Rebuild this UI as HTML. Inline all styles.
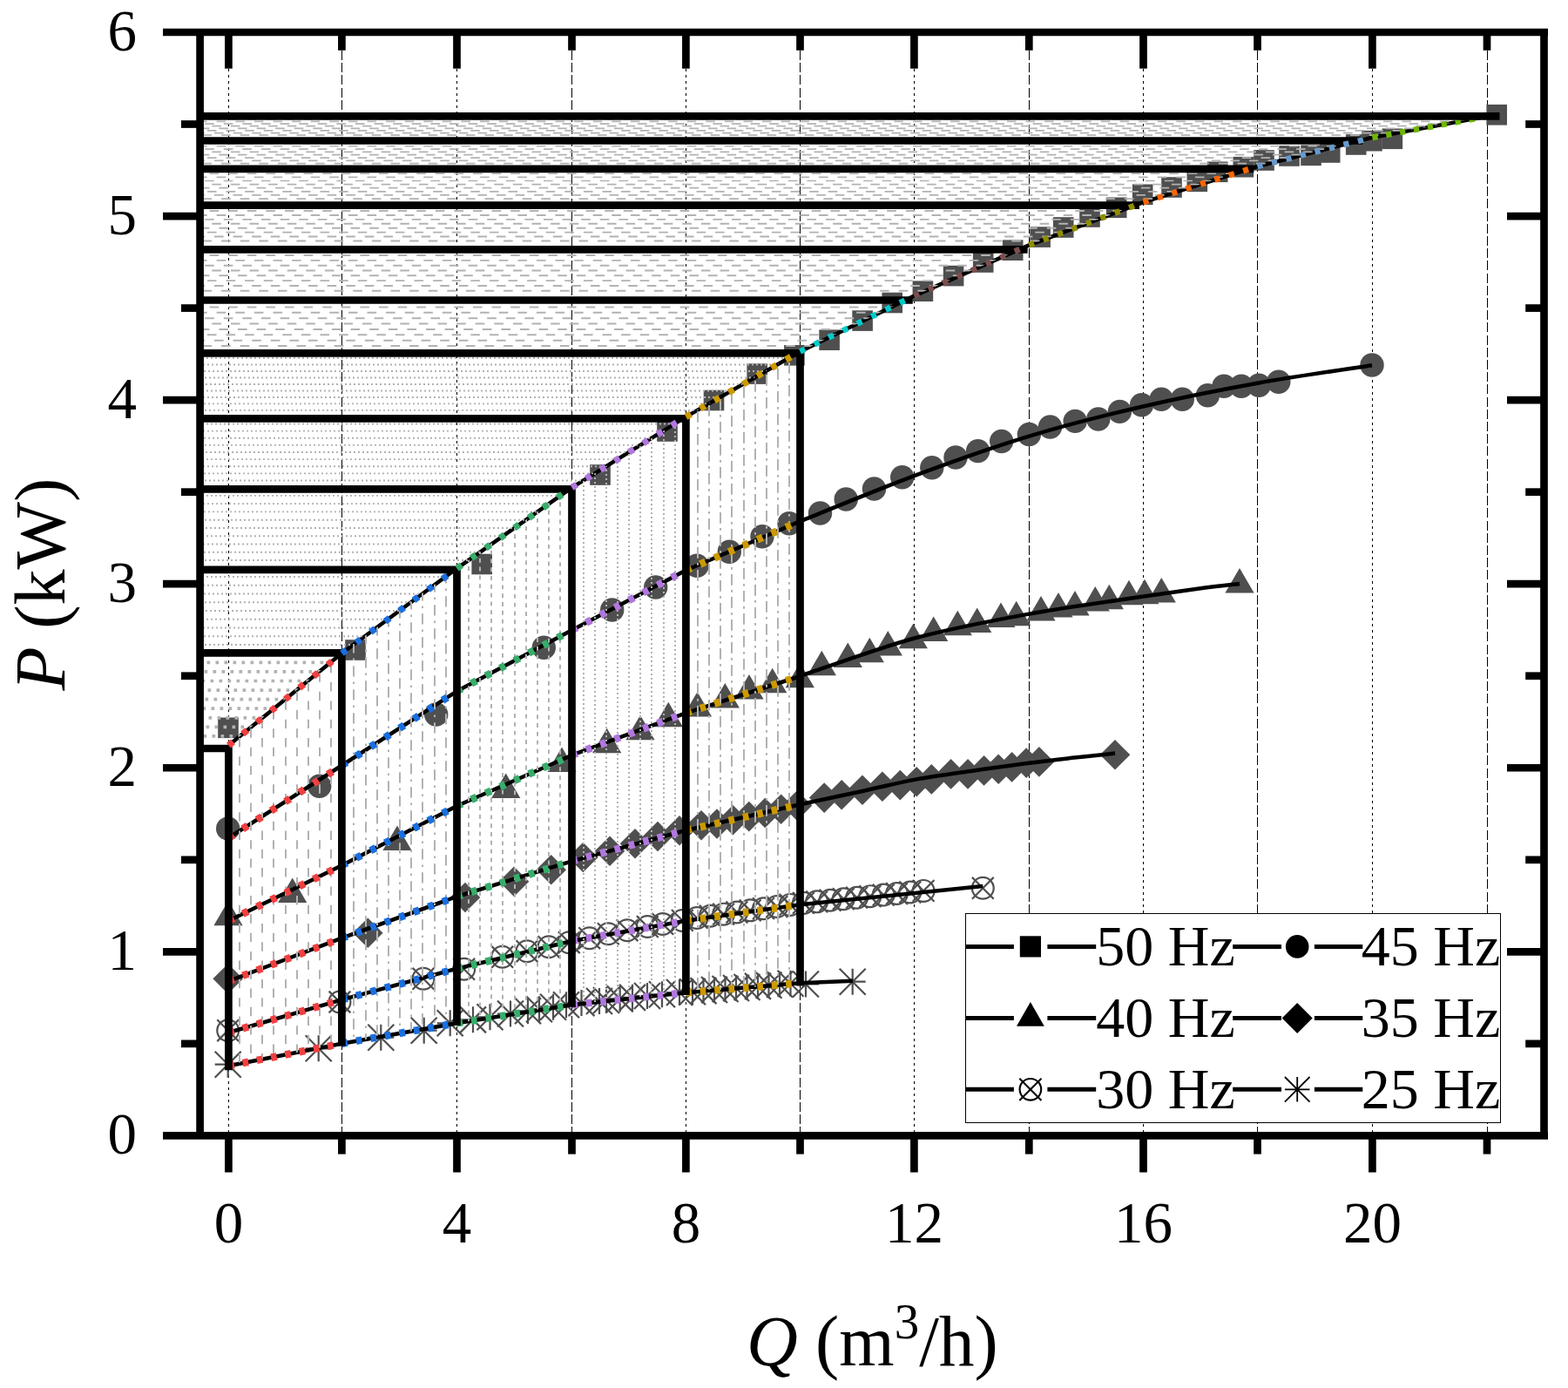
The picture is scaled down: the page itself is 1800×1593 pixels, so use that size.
<!DOCTYPE html>
<html lang="en"><head><meta charset="utf-8"><title>P-Q curves</title>
<style>html,body{margin:0;padding:0;background:#fff}svg{display:block}text{font-family:"Liberation Serif",serif;fill:#000}</style></head><body>
<svg width="1800" height="1593" viewBox="0 0 1800 1593">
<rect width="1800" height="1593" fill="#fff"/>
<g stroke="#000" stroke-width="1" fill="none" shape-rendering="crispEdges">
<line x1="262.5" y1="79" x2="262.5" y2="1303.4" stroke-dasharray="3 4"/>
<line x1="392.5" y1="58" x2="392.5" y2="1303.4" stroke-dasharray="11 3.2"/>
<line x1="524.5" y1="79" x2="524.5" y2="1303.4" stroke-dasharray="3 4"/>
<line x1="656.5" y1="58" x2="656.5" y2="1303.4" stroke-dasharray="11 3.2"/>
<line x1="787.5" y1="79" x2="787.5" y2="1303.4" stroke-dasharray="3 4"/>
<line x1="918.5" y1="58" x2="918.5" y2="1303.4" stroke-dasharray="11 3.2"/>
<line x1="1049.5" y1="79" x2="1049.5" y2="1303.4" stroke-dasharray="3 4"/>
<line x1="1181.5" y1="58" x2="1181.5" y2="1303.4" stroke-dasharray="11 3.2"/>
<line x1="1312.5" y1="79" x2="1312.5" y2="1303.4" stroke-dasharray="3 4"/>
<line x1="1443.5" y1="58" x2="1443.5" y2="1303.4" stroke-dasharray="11 3.2"/>
<line x1="1575.5" y1="79" x2="1575.5" y2="1303.4" stroke-dasharray="3 4"/>
<line x1="1707.5" y1="58" x2="1707.5" y2="1303.4" stroke-dasharray="11 3.2"/>
</g>
<g fill="#4f4f4f" stroke="none">
<rect x="250.2" y="823.5" width="23.6" height="23.6"/>
<rect x="396.2" y="734.2" width="23.6" height="23.6"/>
<rect x="541.4" y="635.7" width="23.6" height="23.6"/>
<rect x="677.2" y="533.2" width="23.6" height="23.6"/>
<rect x="754.2" y="483.2" width="23.6" height="23.6"/>
<rect x="807.7" y="447.7" width="23.6" height="23.6"/>
<rect x="857.4" y="417.3" width="23.6" height="23.6"/>
<rect x="900.1" y="396" width="23.6" height="23.6"/>
<rect x="940.3" y="378.4" width="23.6" height="23.6"/>
<rect x="978.3" y="356.3" width="23.6" height="23.6"/>
<rect x="1012.4" y="335.7" width="23.6" height="23.6"/>
<rect x="1047.6" y="322.4" width="23.6" height="23.6"/>
<rect x="1082.8" y="304.8" width="23.6" height="23.6"/>
<rect x="1116.9" y="289.2" width="23.6" height="23.6"/>
<rect x="1150.9" y="275.4" width="23.6" height="23.6"/>
<rect x="1182.3" y="260.3" width="23.6" height="23.6"/>
<rect x="1208.9" y="249.2" width="23.6" height="23.6"/>
<rect x="1239.2" y="237.2" width="23.6" height="23.6"/>
<rect x="1269.9" y="226.5" width="23.6" height="23.6"/>
<rect x="1299.9" y="211.5" width="23.6" height="23.6"/>
<rect x="1333.2" y="203.2" width="23.6" height="23.6"/>
<rect x="1362.5" y="196.5" width="23.6" height="23.6"/>
<rect x="1385.9" y="185.5" width="23.6" height="23.6"/>
<rect x="1415.5" y="179.9" width="23.6" height="23.6"/>
<rect x="1439.2" y="172.2" width="23.6" height="23.6"/>
<rect x="1468.2" y="167.2" width="23.6" height="23.6"/>
<rect x="1493.2" y="166.5" width="23.6" height="23.6"/>
<rect x="1514.9" y="163.2" width="23.6" height="23.6"/>
<rect x="1544.9" y="154.2" width="23.6" height="23.6"/>
<rect x="1563.2" y="149.9" width="23.6" height="23.6"/>
<rect x="1586.5" y="147.5" width="23.6" height="23.6"/>
<rect x="1706.4" y="120" width="23.6" height="23.6"/>
<circle cx="261.7" cy="951" r="13.7"/>
<circle cx="366.7" cy="902.3" r="13.7"/>
<circle cx="500.7" cy="820" r="13.7"/>
<circle cx="624.3" cy="743.3" r="13.7"/>
<circle cx="702.7" cy="700" r="13.7"/>
<circle cx="752.7" cy="674" r="13.7"/>
<circle cx="800" cy="649.3" r="13.7"/>
<circle cx="837.3" cy="633.3" r="13.7"/>
<circle cx="875" cy="615.7" r="13.7"/>
<circle cx="906" cy="600.7" r="13.7"/>
<circle cx="941.5" cy="589" r="13.7"/>
<circle cx="971.2" cy="573" r="13.7"/>
<circle cx="1003.5" cy="561" r="13.7"/>
<circle cx="1035.7" cy="547.7" r="13.7"/>
<circle cx="1069.8" cy="536.7" r="13.7"/>
<circle cx="1097" cy="525" r="13.7"/>
<circle cx="1122.6" cy="517.6" r="13.7"/>
<circle cx="1149.7" cy="506.5" r="13.7"/>
<circle cx="1181.4" cy="498.5" r="13.7"/>
<circle cx="1205.5" cy="490" r="13.7"/>
<circle cx="1234.2" cy="483.4" r="13.7"/>
<circle cx="1260.8" cy="481" r="13.7"/>
<circle cx="1285.4" cy="472.4" r="13.7"/>
<circle cx="1310.6" cy="464.8" r="13.7"/>
<circle cx="1333.2" cy="458.3" r="13.7"/>
<circle cx="1357.3" cy="458.3" r="13.7"/>
<circle cx="1386.4" cy="453.8" r="13.7"/>
<circle cx="1405" cy="443.2" r="13.7"/>
<circle cx="1425" cy="443.2" r="13.7"/>
<circle cx="1445.2" cy="442.2" r="13.7"/>
<circle cx="1467.8" cy="438.2" r="13.7"/>
<circle cx="1575" cy="419" r="13.7"/>
<path d="M262 1033.8L278.6 1062.2L245.4 1062.2Z"/>
<path d="M335.7 1007.5L352.3 1035.9L319.1 1035.9Z"/>
<path d="M456 947.5L472.6 975.9L439.4 975.9Z"/>
<path d="M580.7 887.5L597.3 915.9L564.1 915.9Z"/>
<path d="M645 857.5L661.6 885.9L628.4 885.9Z"/>
<path d="M696.7 835.8L713.3 864.2L680.1 864.2Z"/>
<path d="M735 820.8L751.6 849.2L718.4 849.2Z"/>
<path d="M767.3 805.8L783.9 834.2L750.7 834.2Z"/>
<path d="M800.5 794.1L817.1 822.5L783.9 822.5Z"/>
<path d="M832.3 784.1L848.9 812.5L815.7 812.5Z"/>
<path d="M860 774.1L876.6 802.5L843.4 802.5Z"/>
<path d="M886.7 766.8L903.3 795.2L870.1 795.2Z"/>
<path d="M918.3 760.8L934.9 789.2L901.7 789.2Z"/>
<path d="M943.3 746.8L959.9 775.2L926.7 775.2Z"/>
<path d="M973.3 737.5L989.9 765.9L956.7 765.9Z"/>
<path d="M998.3 731.8L1014.9 760.2L981.7 760.2Z"/>
<path d="M1019.3 724.1L1035.9 752.5L1002.7 752.5Z"/>
<path d="M1048.3 715.8L1064.9 744.2L1031.7 744.2Z"/>
<path d="M1071.7 707.5L1088.3 735.9L1055.1 735.9Z"/>
<path d="M1099.3 700.8L1115.9 729.2L1082.7 729.2Z"/>
<path d="M1121.7 697.5L1138.3 725.9L1105.1 725.9Z"/>
<path d="M1149 691.5L1165.6 719.9L1132.4 719.9Z"/>
<path d="M1166.7 689.8L1183.3 718.2L1150.1 718.2Z"/>
<path d="M1195 684.1L1211.6 712.5L1178.4 712.5Z"/>
<path d="M1215 680.1L1231.6 708.5L1198.4 708.5Z"/>
<path d="M1234 678.1L1250.6 706.5L1217.4 706.5Z"/>
<path d="M1257.3 673.1L1273.9 701.5L1240.7 701.5Z"/>
<path d="M1273.3 670.8L1289.9 699.2L1256.7 699.2Z"/>
<path d="M1296 665.8L1312.6 694.2L1279.4 694.2Z"/>
<path d="M1314 664.8L1330.6 693.2L1297.4 693.2Z"/>
<path d="M1333.3 663.1L1349.9 691.5L1316.7 691.5Z"/>
<path d="M1423 652.1L1439.6 680.5L1406.4 680.5Z"/>
<path d="M261.7 1106L279 1123.3L261.7 1140.6L244.4 1123.3Z"/>
<path d="M422.3 1053.4L439.6 1070.7L422.3 1088L405 1070.7Z"/>
<path d="M534 1012.7L551.3 1030L534 1047.3L516.7 1030Z"/>
<path d="M590 994.4L607.3 1011.7L590 1029L572.7 1011.7Z"/>
<path d="M632.7 981L650 998.3L632.7 1015.6L615.4 998.3Z"/>
<path d="M669.3 966.7L686.6 984L669.3 1001.3L652 984Z"/>
<path d="M700 959.4L717.3 976.7L700 994L682.7 976.7Z"/>
<path d="M729 951L746.3 968.3L729 985.6L711.7 968.3Z"/>
<path d="M755 942.7L772.3 960L755 977.3L737.7 960Z"/>
<path d="M780 936L797.3 953.3L780 970.6L762.7 953.3Z"/>
<path d="M805 930L822.3 947.3L805 964.6L787.7 947.3Z"/>
<path d="M823 928.14L840.3 945.44L823 962.74L805.7 945.44Z"/>
<path d="M841.4 923.97L858.7 941.27L841.4 958.57L824.1 941.27Z"/>
<path d="M859.8 919.8L877.1 937.1L859.8 954.4L842.5 937.1Z"/>
<path d="M878.2 915.63L895.5 932.93L878.2 950.23L860.9 932.93Z"/>
<path d="M896.6 911.46L913.9 928.76L896.6 946.06L879.3 928.76Z"/>
<path d="M915 907.29L932.3 924.59L915 941.89L897.7 924.59Z"/>
<path d="M946.2 898.3L963.5 915.6L946.2 932.9L928.9 915.6Z"/>
<path d="M966.2 894.9L983.5 912.2L966.2 929.5L948.9 912.2Z"/>
<path d="M990 889.4L1007.3 906.7L990 924L972.7 906.7Z"/>
<path d="M1012.9 885.4L1030.2 902.7L1012.9 920L995.6 902.7Z"/>
<path d="M1033.3 883.8L1050.6 901.1L1033.3 918.4L1016 901.1Z"/>
<path d="M1052.2 880L1069.5 897.3L1052.2 914.6L1034.9 897.3Z"/>
<path d="M1069.3 877.1L1086.6 894.4L1069.3 911.7L1052 894.4Z"/>
<path d="M1091.6 871.1L1108.9 888.4L1091.6 905.7L1074.3 888.4Z"/>
<path d="M1111.1 871.1L1128.4 888.4L1111.1 905.7L1093.8 888.4Z"/>
<path d="M1129.6 867.1L1146.9 884.4L1129.6 901.7L1112.3 884.4Z"/>
<path d="M1146.2 865.4L1163.5 882.7L1146.2 900L1128.9 882.7Z"/>
<path d="M1161.6 863.1L1178.9 880.4L1161.6 897.7L1144.3 880.4Z"/>
<path d="M1178.2 858.3L1195.5 875.6L1178.2 892.9L1160.9 875.6Z"/>
<path d="M1192.9 857.1L1210.2 874.4L1192.9 891.7L1175.6 874.4Z"/>
<path d="M1280 848.9L1297.3 866.2L1280 883.5L1262.7 866.2Z"/>
</g>
<g fill="none" stroke="#4f4f4f" stroke-width="2.2">
<circle cx="261.7" cy="1182.7" r="12.4"/><path d="M249.3 1170.3L274.1 1195.1M249.3 1195.1L274.1 1170.3"/>
<circle cx="390" cy="1150" r="12.4"/><path d="M377.6 1137.6L402.4 1162.4M377.6 1162.4L402.4 1137.6"/>
<circle cx="486" cy="1123.3" r="12.4"/><path d="M473.6 1110.9L498.4 1135.7M473.6 1135.7L498.4 1110.9"/>
<circle cx="532.7" cy="1112.3" r="12.4"/><path d="M520.3 1099.9L545.1 1124.7M520.3 1124.7L545.1 1099.9"/>
<circle cx="576.7" cy="1098.3" r="12.4"/><path d="M564.3 1085.9L589.1 1110.7M564.3 1110.7L589.1 1085.9"/>
<circle cx="605" cy="1091.7" r="12.4"/><path d="M592.6 1079.3L617.4 1104.1M592.6 1104.1L617.4 1079.3"/>
<circle cx="630" cy="1086.7" r="12.4"/><path d="M617.6 1074.3L642.4 1099.1M617.6 1099.1L642.4 1074.3"/>
<circle cx="653.3" cy="1081.7" r="12.4"/><path d="M640.9 1069.3L665.7 1094.1M640.9 1094.1L665.7 1069.3"/>
<circle cx="676.7" cy="1076.7" r="12.4"/><path d="M664.3 1064.3L689.1 1089.1M664.3 1089.1L689.1 1064.3"/>
<circle cx="698.3" cy="1071.7" r="12.4"/><path d="M685.9 1059.3L710.7 1084.1M685.9 1084.1L710.7 1059.3"/>
<circle cx="720" cy="1067.7" r="12.4"/><path d="M707.6 1055.3L732.4 1080.1M707.6 1080.1L732.4 1055.3"/>
<circle cx="743.3" cy="1063.55" r="12.4"/><path d="M730.9 1051.15L755.7 1075.95M730.9 1075.95L755.7 1051.15"/>
<circle cx="760.8" cy="1060.43" r="12.4"/><path d="M748.4 1048.03L773.2 1072.83M748.4 1072.83L773.2 1048.03"/>
<circle cx="783.3" cy="1056.43" r="12.4"/><path d="M770.9 1044.03L795.7 1068.83M770.9 1068.83L795.7 1044.03"/>
<circle cx="800" cy="1053.43" r="12.4"/><path d="M787.6 1041.03L812.4 1065.83M787.6 1065.83L812.4 1041.03"/>
<circle cx="815.3" cy="1051.28" r="12.4"/><path d="M802.9 1038.88L827.7 1063.68M802.9 1063.68L827.7 1038.88"/>
<circle cx="830.6" cy="1049.14" r="12.4"/><path d="M818.2 1036.74L843 1061.54M818.2 1061.54L843 1036.74"/>
<circle cx="845.9" cy="1046.99" r="12.4"/><path d="M833.5 1034.59L858.3 1059.39M833.5 1059.39L858.3 1034.59"/>
<circle cx="861.2" cy="1044.84" r="12.4"/><path d="M848.8 1032.44L873.6 1057.24M848.8 1057.24L873.6 1032.44"/>
<circle cx="876.5" cy="1042.69" r="12.4"/><path d="M864.1 1030.29L888.9 1055.09M864.1 1055.09L888.9 1030.29"/>
<circle cx="891.8" cy="1040.55" r="12.4"/><path d="M879.4 1028.15L904.2 1052.95M879.4 1052.95L904.2 1028.15"/>
<circle cx="907.1" cy="1038.4" r="12.4"/><path d="M894.7 1026L919.5 1050.8M894.7 1050.8L919.5 1026"/>
<circle cx="922.4" cy="1036.4" r="12.4"/><path d="M910 1024L934.8 1048.8M910 1048.8L934.8 1024"/>
<circle cx="937.7" cy="1034.85" r="12.4"/><path d="M925.3 1022.45L950.1 1047.25M925.3 1047.25L950.1 1022.45"/>
<circle cx="953" cy="1033.3" r="12.4"/><path d="M940.6 1020.9L965.4 1045.7M940.6 1045.7L965.4 1020.9"/>
<circle cx="968.3" cy="1031.74" r="12.4"/><path d="M955.9 1019.34L980.7 1044.14M955.9 1044.14L980.7 1019.34"/>
<circle cx="983.6" cy="1030.19" r="12.4"/><path d="M971.2 1017.79L996 1042.59M971.2 1042.59L996 1017.79"/>
<circle cx="998.9" cy="1028.64" r="12.4"/><path d="M986.5 1016.24L1011.3 1041.04M986.5 1041.04L1011.3 1016.24"/>
<circle cx="1014.2" cy="1027.08" r="12.4"/><path d="M1001.8 1014.68L1026.6 1039.48M1001.8 1039.48L1026.6 1014.68"/>
<circle cx="1029.5" cy="1025.53" r="12.4"/><path d="M1017.1 1013.13L1041.9 1037.93M1017.1 1037.93L1041.9 1013.13"/>
<circle cx="1044.8" cy="1023.98" r="12.4"/><path d="M1032.4 1011.58L1057.2 1036.38M1032.4 1036.38L1057.2 1011.58"/>
<circle cx="1060.1" cy="1022.42" r="12.4"/><path d="M1047.7 1010.02L1072.5 1034.82M1047.7 1034.82L1072.5 1010.02"/>
<circle cx="1128.3" cy="1019.3" r="12.4"/><path d="M1115.9 1006.9L1140.7 1031.7M1115.9 1031.7L1140.7 1006.9"/>
<path d="M246.7 1206.7L276.7 1236.7M246.7 1236.7L276.7 1206.7M261.7 1206.7L261.7 1236.7M246.7 1221.7L276.7 1221.7"/>
<path d="M350.7 1188.3L380.7 1218.3M350.7 1218.3L380.7 1188.3M365.7 1188.3L365.7 1218.3M350.7 1203.3L380.7 1203.3"/>
<path d="M422.3 1175.7L452.3 1205.7M422.3 1205.7L452.3 1175.7M437.3 1175.7L437.3 1205.7M422.3 1190.7L452.3 1190.7"/>
<path d="M471.7 1167.7L501.7 1197.7M471.7 1197.7L501.7 1167.7M486.7 1167.7L486.7 1197.7M471.7 1182.7L501.7 1182.7"/>
<path d="M501.7 1159.3L531.7 1189.3M501.7 1189.3L531.7 1159.3M516.7 1159.3L516.7 1189.3M501.7 1174.3L531.7 1174.3"/>
<path d="M528 1155.36L558 1185.36M528 1185.36L558 1155.36M543 1155.36L543 1185.36M528 1170.36L558 1170.36"/>
<path d="M547.5 1152.25L577.5 1182.25M547.5 1182.25L577.5 1152.25M562.5 1152.25L562.5 1182.25M547.5 1167.25L577.5 1167.25"/>
<path d="M571 1148.52L601 1178.52M571 1178.52L601 1148.52M586 1148.52L586 1178.52M571 1163.52L601 1163.52"/>
<path d="M591 1145.33L621 1175.33M591 1175.33L621 1145.33M606 1145.33L606 1175.33M591 1160.33L621 1160.33"/>
<path d="M604 1143.27L634 1173.27M604 1173.27L634 1143.27M619 1143.27L619 1173.27M604 1158.27L634 1158.27"/>
<path d="M620 1140.72L650 1170.72M620 1170.72L650 1140.72M635 1140.72L635 1170.72M620 1155.72L650 1155.72"/>
<path d="M635 1138.33L665 1168.33M635 1168.33L665 1138.33M650 1138.33L650 1168.33M635 1153.33L665 1153.33"/>
<path d="M652.5 1136.12L682.5 1166.12M652.5 1166.12L682.5 1136.12M667.5 1136.12L667.5 1166.12M652.5 1151.12L682.5 1151.12"/>
<path d="M673 1133.93L703 1163.93M673 1163.93L703 1133.93M688 1133.93L688 1163.93M673 1148.93L703 1148.93"/>
<path d="M681 1133.08L711 1163.08M681 1163.08L711 1133.08M696 1133.08L696 1163.08M681 1148.08L711 1148.08"/>
<path d="M696.7 1131.4L726.7 1161.4M696.7 1161.4L726.7 1131.4M711.7 1131.4L711.7 1161.4M696.7 1146.4L726.7 1146.4"/>
<path d="M711 1129.87L741 1159.87M711 1159.87L741 1129.87M726 1129.87L726 1159.87M711 1144.87L741 1144.87"/>
<path d="M728 1128.05L758 1158.05M728 1158.05L758 1128.05M743 1128.05L743 1158.05M728 1143.05L758 1143.05"/>
<path d="M745 1126.23L775 1156.23M745 1156.23L775 1126.23M760 1126.23L760 1156.23M745 1141.23L775 1141.23"/>
<path d="M765 1124.09L795 1154.09M765 1154.09L795 1124.09M780 1124.09L780 1154.09M765 1139.09L795 1139.09"/>
<path d="M780 1123.16L810 1153.16M780 1153.16L810 1123.16M795 1123.16L795 1153.16M780 1138.16L810 1138.16"/>
<path d="M792.5 1122.11L822.5 1152.11M792.5 1152.11L822.5 1122.11M807.5 1122.11L807.5 1152.11M792.5 1137.11L822.5 1137.11"/>
<path d="M805 1121.06L835 1151.06M805 1151.06L835 1121.06M820 1121.06L820 1151.06M805 1136.06L835 1136.06"/>
<path d="M817.5 1120.02L847.5 1150.02M817.5 1150.02L847.5 1120.02M832.5 1120.02L832.5 1150.02M817.5 1135.02L847.5 1135.02"/>
<path d="M830 1118.97L860 1148.97M830 1148.97L860 1118.97M845 1118.97L845 1148.97M830 1133.97L860 1133.97"/>
<path d="M842.5 1117.92L872.5 1147.92M842.5 1147.92L872.5 1117.92M857.5 1117.92L857.5 1147.92M842.5 1132.92L872.5 1132.92"/>
<path d="M855 1116.87L885 1146.87M855 1146.87L885 1116.87M870 1116.87L870 1146.87M855 1131.87L885 1131.87"/>
<path d="M867.5 1115.82L897.5 1145.82M867.5 1145.82L897.5 1115.82M882.5 1115.82L882.5 1145.82M867.5 1130.82L897.5 1130.82"/>
<path d="M880 1114.77L910 1144.77M880 1144.77L910 1114.77M895 1114.77L895 1144.77M880 1129.77L910 1129.77"/>
<path d="M892.5 1113.72L922.5 1143.72M892.5 1143.72L922.5 1113.72M907.5 1113.72L907.5 1143.72M892.5 1128.72L922.5 1128.72"/>
<path d="M910 1114.5L940 1144.5M910 1144.5L940 1114.5M925 1114.5L925 1144.5M910 1129.5L940 1129.5"/>
<path d="M963.7 1111.7L993.7 1141.7M963.7 1141.7L993.7 1111.7M978.7 1111.7L978.7 1141.7M963.7 1126.7L993.7 1126.7"/>
</g>
<g fill="none" stroke="#000" stroke-width="4.5" stroke-linejoin="round">
<path d="M262.4 855.5L392.4 749.8L524.5 652.3L656.5 559.6L787.4 478.4L918.5 403.5L1049.4 339.6L1181.3 281.4L1312.5 232.2L1443.5 191L1575.4 157.8L1718.2 131.6"/>
<path d="M262.4 961.7L392.4 878.5L524.5 793.3L656.5 723.3L787.4 654.5L918.5 598.3C940.55 589.52 1006.98 561.88 1050.8 545.6C1094.62 529.32 1137.87 513.78 1181.4 500.6C1224.93 487.42 1268.07 476.68 1312 466.5C1355.93 456.32 1401.17 447.37 1445 439.5C1488.83 431.63 1553.33 422.67 1575 419.3"/>
<path d="M262.4 1056.7L392.4 993.3L524.5 925L656.5 866.7L787.4 818.3L918.5 776C940.38 768.75 1006 744.4 1049.8 732.5C1093.6 720.6 1137.47 712.58 1181.3 704.6C1225.13 696.62 1279.68 689.53 1312.8 684.6C1345.92 679.67 1361.63 677.43 1380 675C1398.37 672.57 1415.83 670.83 1423 670"/>
<path d="M262.4 1126L392.4 1076.7L524.5 1029L656.5 988.3L787.4 953L918.5 923.3C930.23 920.78 966.8 912.98 988.9 908.2C1011 903.42 1029.62 898.57 1051.1 894.6C1072.58 890.63 1096.13 887.55 1117.8 884.4C1139.47 881.25 1161.85 878.17 1181.1 875.7C1200.35 873.23 1216.82 871.45 1233.3 869.6C1249.78 867.75 1272.22 865.43 1280 864.6"/>
<path d="M262.4 1185L392.4 1147.3L524.5 1111.7L656.5 1080L787.4 1056.7L918.5 1038.3L1128.3 1017"/>
<path d="M262.4 1223.3L392.4 1197.7L524.5 1174.3L656.5 1153.3L787.4 1139.3L918.5 1128.3L979 1125.7"/>
</g>
<defs>
<clipPath id="cv0"><path d="M262.4 855.5L392.4 749.8L392.4 1197.7L262.4 1223.3Z"/></clipPath>
<clipPath id="cv1"><path d="M392.4 749.8L524.5 652.3L524.5 1174.3L392.4 1197.7Z"/></clipPath>
<clipPath id="cv2"><path d="M524.5 652.3L656.5 559.6L656.5 1153.3L524.5 1174.3Z"/></clipPath>
<clipPath id="cv3"><path d="M656.5 559.6L787.4 478.4L787.4 1139.3L656.5 1153.3Z"/></clipPath>
<clipPath id="cv4"><path d="M787.4 478.4L918.5 403.5L918.5 1128.3L787.4 1139.3Z"/></clipPath>
<clipPath id="ch0"><path d="M229.6 855.5L262.4 855.5L392.4 749.8L229.6 749.8Z"/></clipPath>
<clipPath id="ch1"><path d="M229.6 749.8L392.4 749.8L524.5 652.3L229.6 652.3Z"/></clipPath>
<clipPath id="ch2"><path d="M229.6 652.3L524.5 652.3L656.5 559.6L229.6 559.6Z"/></clipPath>
<clipPath id="ch3"><path d="M229.6 559.6L656.5 559.6L787.4 478.4L229.6 478.4Z"/></clipPath>
<clipPath id="ch4"><path d="M229.6 478.4L787.4 478.4L918.5 403.5L229.6 403.5Z"/></clipPath>
<clipPath id="ch5"><path d="M229.6 403.5L918.5 403.5L1049.4 339.6L229.6 339.6Z"/></clipPath>
<clipPath id="ch6"><path d="M229.6 339.6L1049.4 339.6L1181.3 281.4L229.6 281.4Z"/></clipPath>
<clipPath id="ch7"><path d="M229.6 281.4L1181.3 281.4L1312.5 232.2L229.6 232.2Z"/></clipPath>
<clipPath id="ch8"><path d="M229.6 232.2L1312.5 232.2L1443.5 191L229.6 191Z"/></clipPath>
<clipPath id="ch9"><path d="M229.6 191L1443.5 191L1575.4 157.8L229.6 157.8Z"/></clipPath>
<clipPath id="ch10"><path d="M229.6 157.8L1575.4 157.8L1718.2 131.6L229.6 131.6Z"/></clipPath>
</defs>
<g fill="none" stroke="#b2b2b2" stroke-width="2">
<g clip-path="url(#cv0)">
<path d="M275 740.5V1228.3" stroke-dasharray="10.4 10.9"/>
<path d="M288 729.85V1228.3" stroke-dasharray="10.4 10.9"/>
<path d="M301 740.5V1228.3" stroke-dasharray="10.4 10.9"/>
<path d="M314 729.85V1228.3" stroke-dasharray="10.4 10.9"/>
<path d="M328 740.5V1228.3" stroke-dasharray="10.4 10.9"/>
<path d="M341 729.85V1228.3" stroke-dasharray="10.4 10.9"/>
<path d="M354 740.5V1228.3" stroke-dasharray="10.4 10.9"/>
<path d="M367 729.85V1228.3" stroke-dasharray="10.4 10.9"/>
<path d="M380 740.5V1228.3" stroke-dasharray="10.4 10.9"/>
</g>
<g clip-path="url(#cv1)">
<path d="M393 639.3V1202.7" stroke-dasharray="12.2 5.9 2.5 6.4"/>
<path d="M406 629.3V1202.7" stroke-dasharray="12.2 5.9 2.5 6.4"/>
<path d="M420 646.3V1202.7" stroke-dasharray="12.2 5.9 2.5 6.4"/>
<path d="M433 636.3V1202.7" stroke-dasharray="12.2 5.9 2.5 6.4"/>
<path d="M446 626.3V1202.7" stroke-dasharray="12.2 5.9 2.5 6.4"/>
<path d="M459 643.3V1202.7" stroke-dasharray="12.2 5.9 2.5 6.4"/>
<path d="M472 633.3V1202.7" stroke-dasharray="12.2 5.9 2.5 6.4"/>
<path d="M485 623.3V1202.7" stroke-dasharray="12.2 5.9 2.5 6.4"/>
<path d="M499 640.3V1202.7" stroke-dasharray="12.2 5.9 2.5 6.4"/>
<path d="M512 630.3V1202.7" stroke-dasharray="12.2 5.9 2.5 6.4"/>
</g>
<g clip-path="url(#cv2)">
<path d="M525 551.38V1179.3" stroke-dasharray="4.9 4.9"/>
<path d="M538 552V1179.3" stroke-dasharray="4.9 4.9"/>
<path d="M551 552.62V1179.3" stroke-dasharray="4.9 4.9"/>
<path d="M564 553.24V1179.3" stroke-dasharray="4.9 4.9"/>
<path d="M577 553.86V1179.3" stroke-dasharray="4.9 4.9"/>
<path d="M591 554.48V1179.3" stroke-dasharray="4.9 4.9"/>
<path d="M604 545.3V1179.3" stroke-dasharray="4.9 4.9"/>
<path d="M617 545.92V1179.3" stroke-dasharray="4.9 4.9"/>
<path d="M630 546.54V1179.3" stroke-dasharray="4.9 4.9"/>
<path d="M643 547.16V1179.3" stroke-dasharray="4.9 4.9"/>
<path d="M656 547.78V1179.3" stroke-dasharray="4.9 4.9"/>
</g>
<g clip-path="url(#cv3)">
<path d="M670 472V1158.3" stroke-dasharray="1.9 3.1"/>
<path d="M683 473V1158.3" stroke-dasharray="1.9 3.1"/>
<path d="M696 469V1158.3" stroke-dasharray="1.9 3.1"/>
<path d="M709 470V1158.3" stroke-dasharray="1.9 3.1"/>
<path d="M722 471V1158.3" stroke-dasharray="1.9 3.1"/>
<path d="M735 472V1158.3" stroke-dasharray="1.9 3.1"/>
<path d="M748 473V1158.3" stroke-dasharray="1.9 3.1"/>
<path d="M762 469V1158.3" stroke-dasharray="1.9 3.1"/>
<path d="M775 470V1158.3" stroke-dasharray="1.9 3.1"/>
</g>
<g clip-path="url(#cv4)">
<path d="M788 375V1144.3" stroke-dasharray="12.8 5.2 2.8 5.2"/>
<path d="M801 394V1144.3" stroke-dasharray="12.8 5.2 2.8 5.2"/>
<path d="M814 387V1144.3" stroke-dasharray="12.8 5.2 2.8 5.2"/>
<path d="M827 380V1144.3" stroke-dasharray="12.8 5.2 2.8 5.2"/>
<path d="M840 373V1144.3" stroke-dasharray="12.8 5.2 2.8 5.2"/>
<path d="M854 392V1144.3" stroke-dasharray="12.8 5.2 2.8 5.2"/>
<path d="M867 385V1144.3" stroke-dasharray="12.8 5.2 2.8 5.2"/>
<path d="M880 378V1144.3" stroke-dasharray="12.8 5.2 2.8 5.2"/>
<path d="M893 397V1144.3" stroke-dasharray="12.8 5.2 2.8 5.2"/>
<path d="M906 390V1144.3" stroke-dasharray="12.8 5.2 2.8 5.2"/>
</g>
</g>
<g fill="none" stroke="#b2b2b2">
<g clip-path="url(#ch0)" stroke-width="3.7" stroke-dasharray="3.7 6.3">
<path d="M217.5 760.37H397.4"/>
<path d="M224.5 770.94H397.4"/>
<path d="M221.5 781.51H397.4"/>
<path d="M218.5 792.08H397.4"/>
<path d="M215.5 802.65H397.4"/>
<path d="M222.5 813.22H397.4"/>
<path d="M219.5 823.79H397.4"/>
<path d="M216.5 834.36H397.4"/>
<path d="M223.5 844.93H397.4"/>
</g>
<g clip-path="url(#ch1)" stroke-width="1.9" stroke-dasharray="2 3">
<path d="M222 662.05H529.5"/>
<path d="M223 671.8H529.5"/>
<path d="M224 681.55H529.5"/>
<path d="M220 691.3H529.5"/>
<path d="M221 701.05H529.5"/>
<path d="M222 710.8H529.5"/>
<path d="M223 720.55H529.5"/>
<path d="M224 730.3H529.5"/>
<path d="M220 740.05H529.5"/>
</g>
<g clip-path="url(#ch2)" stroke-width="1.9" stroke-dasharray="2 3">
<path d="M222 568.87H661.5"/>
<path d="M223 578.14H661.5"/>
<path d="M224 587.41H661.5"/>
<path d="M220 596.68H661.5"/>
<path d="M221 605.95H661.5"/>
<path d="M222 615.22H661.5"/>
<path d="M223 624.49H661.5"/>
<path d="M224 633.76H661.5"/>
<path d="M220 643.03H661.5"/>
</g>
<g clip-path="url(#ch3)" stroke-width="1.9" stroke-dasharray="2 3">
<path d="M222 486.52H792.4"/>
<path d="M223 494.64H792.4"/>
<path d="M224 502.76H792.4"/>
<path d="M220 510.88H792.4"/>
<path d="M221 519H792.4"/>
<path d="M222 527.12H792.4"/>
<path d="M223 535.24H792.4"/>
<path d="M224 543.36H792.4"/>
<path d="M220 551.48H792.4"/>
</g>
<g clip-path="url(#ch4)" stroke-width="1.9" stroke-dasharray="2 3">
<path d="M222 410.99H923.5"/>
<path d="M223 418.48H923.5"/>
<path d="M224 425.97H923.5"/>
<path d="M220 433.46H923.5"/>
<path d="M221 440.95H923.5"/>
<path d="M222 448.44H923.5"/>
<path d="M223 455.93H923.5"/>
<path d="M224 463.42H923.5"/>
<path d="M220 470.91H923.5"/>
</g>
<g clip-path="url(#ch5)" stroke-width="2.0" stroke-dasharray="10.6 11">
<path d="M210.9 345.99H1054.4"/>
<path d="M219 352.38H1054.4"/>
<path d="M205.5 358.77H1054.4"/>
<path d="M213.6 365.16H1054.4"/>
<path d="M221.7 371.55H1054.4"/>
<path d="M208.2 377.94H1054.4"/>
<path d="M216.3 384.33H1054.4"/>
<path d="M224.4 390.72H1054.4"/>
<path d="M210.9 397.11H1054.4"/>
</g>
<g clip-path="url(#ch6)" stroke-width="1.9" stroke-dasharray="10.6 11">
<path d="M210.9 287.22H1186.3"/>
<path d="M219 293.04H1186.3"/>
<path d="M205.5 298.86H1186.3"/>
<path d="M213.6 304.68H1186.3"/>
<path d="M221.7 310.5H1186.3"/>
<path d="M208.2 316.32H1186.3"/>
<path d="M216.3 322.14H1186.3"/>
<path d="M224.4 327.96H1186.3"/>
<path d="M210.9 333.78H1186.3"/>
</g>
<g clip-path="url(#ch7)" stroke-width="1.9" stroke-dasharray="10.6 11">
<path d="M210.9 237.12H1317.5"/>
<path d="M219 242.04H1317.5"/>
<path d="M205.5 246.96H1317.5"/>
<path d="M213.6 251.88H1317.5"/>
<path d="M221.7 256.8H1317.5"/>
<path d="M208.2 261.72H1317.5"/>
<path d="M216.3 266.64H1317.5"/>
<path d="M224.4 271.56H1317.5"/>
<path d="M210.9 276.48H1317.5"/>
</g>
<g clip-path="url(#ch8)" stroke-width="1.7" stroke-dasharray="10.6 11">
<path d="M210.9 195.12H1448.5"/>
<path d="M219 199.24H1448.5"/>
<path d="M205.5 203.36H1448.5"/>
<path d="M213.6 207.48H1448.5"/>
<path d="M221.7 211.6H1448.5"/>
<path d="M208.2 215.72H1448.5"/>
<path d="M216.3 219.84H1448.5"/>
<path d="M224.4 223.96H1448.5"/>
<path d="M210.9 228.08H1448.5"/>
</g>
<g clip-path="url(#ch9)" stroke-width="1.7" stroke-dasharray="10.6 11">
<path d="M210.9 161.12H1580.4"/>
<path d="M219 164.44H1580.4"/>
<path d="M205.5 167.76H1580.4"/>
<path d="M213.6 171.08H1580.4"/>
<path d="M221.7 174.4H1580.4"/>
<path d="M208.2 177.72H1580.4"/>
<path d="M216.3 181.04H1580.4"/>
<path d="M224.4 184.36H1580.4"/>
<path d="M210.9 187.68H1580.4"/>
</g>
<g clip-path="url(#ch10)" stroke-width="1.7" stroke-dasharray="10.6 11">
<path d="M210.9 134.22H1723.2"/>
<path d="M219 136.84H1723.2"/>
<path d="M205.5 139.46H1723.2"/>
<path d="M213.6 142.08H1723.2"/>
<path d="M221.7 144.7H1723.2"/>
<path d="M208.2 147.32H1723.2"/>
<path d="M216.3 149.94H1723.2"/>
<path d="M224.4 152.56H1723.2"/>
<path d="M210.9 155.18H1723.2"/>
</g>
</g>
<g fill="none" stroke-width="8.6">
<path d="M262.4 961.7L392.4 878.5" stroke="#F14040" stroke-dasharray="6.6 12.69"/>
<path d="M392.4 878.5L524.5 793.3" stroke="#1A6FDF" stroke-dasharray="6.6 13.05"/>
<path d="M524.5 793.3L656.5 723.3" stroke="#37AD6B" stroke-dasharray="6.6 12.08"/>
<path d="M656.5 723.3L787.4 654.5" stroke="#B177DE" stroke-dasharray="6.6 11.88"/>
<path d="M787.4 654.5L918.5 598.3" stroke="#CC9900" stroke-dasharray="6.6 11.23"/>
<path d="M262.4 1056.7L392.4 993.3" stroke="#F14040" stroke-dasharray="6.6 11.48"/>
<path d="M392.4 993.3L524.5 925" stroke="#1A6FDF" stroke-dasharray="6.6 11.99"/>
<path d="M524.5 925L656.5 866.7" stroke="#37AD6B" stroke-dasharray="6.6 11.44"/>
<path d="M656.5 866.7L787.4 818.3" stroke="#B177DE" stroke-dasharray="6.6 10.85"/>
<path d="M787.4 818.3L918.5 776" stroke="#CC9900" stroke-dasharray="6.6 10.62"/>
<path d="M262.4 1126L392.4 1076.7" stroke="#F14040" stroke-dasharray="6.6 10.78"/>
<path d="M392.4 1076.7L524.5 1029" stroke="#1A6FDF" stroke-dasharray="6.6 10.96"/>
<path d="M524.5 1029L656.5 988.3" stroke="#37AD6B" stroke-dasharray="6.6 10.67"/>
<path d="M656.5 988.3L787.4 953" stroke="#B177DE" stroke-dasharray="6.6 10.35"/>
<path d="M787.4 953L918.5 923.3" stroke="#CC9900" stroke-dasharray="6.6 10.2"/>
<path d="M262.4 1185L392.4 1147.3" stroke="#F14040" stroke-dasharray="6.6 10.32"/>
<path d="M392.4 1147.3L524.5 1111.7" stroke="#1A6FDF" stroke-dasharray="6.6 10.5"/>
<path d="M524.5 1111.7L656.5 1080" stroke="#37AD6B" stroke-dasharray="6.6 10.37"/>
<path d="M656.5 1080L787.4 1056.7" stroke="#B177DE" stroke-dasharray="6.6 10.02"/>
<path d="M787.4 1056.7L918.5 1038.3" stroke="#CC9900" stroke-dasharray="6.6 9.95"/>
<path d="M262.4 1223.3L392.4 1197.7" stroke="#F14040" stroke-dasharray="6.6 9.96"/>
<path d="M392.4 1197.7L524.5 1174.3" stroke="#1A6FDF" stroke-dasharray="6.6 10.17"/>
<path d="M524.5 1174.3L656.5 1153.3" stroke="#37AD6B" stroke-dasharray="6.6 10.11"/>
<path d="M656.5 1153.3L787.4 1139.3" stroke="#B177DE" stroke-dasharray="6.6 9.86"/>
<path d="M787.4 1139.3L918.5 1128.3" stroke="#CC9900" stroke-dasharray="6.6 9.85"/>
</g>
<g fill="none" stroke-width="6.8">
<path d="M1575.4 157.8L1718.2 131.6" stroke="#6FB802" stroke-dasharray="6.2 9.93"/>
</g>
<g fill="none" stroke="#000" stroke-width="8.7" stroke-linejoin="miter" stroke-linecap="butt">
<path d="M229.6 859L262.4 859L262.4 1228.3"/>
<path d="M229.6 749.3L392.4 749.3L392.4 1200.5"/>
<path d="M229.6 653.9L524.5 653.9L524.5 1177.1"/>
<path d="M229.6 561.3L656.5 561.3L656.5 1156.1"/>
<path d="M229.6 480.4L787.4 480.4L787.4 1142.1"/>
<path d="M229.6 405.4L918.5 405.4L918.5 1131.5"/>
<path d="M229.6 344.5L1047.8 344.5"/>
<path d="M229.6 286.4L1179.7 286.4"/>
<path d="M229.6 235.7L1308 235.7"/>
<path d="M229.6 193.8L1439.3 193.8"/>
<path d="M229.6 161.5L1564.4 161.5"/>
<path d="M229.6 133.3L1721.5 133.3"/>
</g>
<g fill="none" stroke-width="7.6">
<path d="M262.4 855.5L392.4 749.8" stroke="#F14040" stroke-dasharray="6.6 14.34"/>
<path d="M392.4 749.8L524.5 652.3" stroke="#1A6FDF" stroke-dasharray="6.6 13.92"/>
<path d="M524.5 652.3L656.5 559.6" stroke="#37AD6B" stroke-dasharray="6.6 13.56"/>
<path d="M656.5 559.6L787.4 478.4" stroke="#B177DE" stroke-dasharray="6.6 12.65"/>
<path d="M787.4 478.4L918.5 403.5" stroke="#CC9900" stroke-dasharray="6.6 12.27"/>
</g>
<g fill="none" stroke-width="6.8">
<path d="M918.5 403.5L1049.4 339.6" stroke="#00CBCC" stroke-dasharray="6.2 12.01"/>
<path d="M1049.4 339.6L1181.3 281.4" stroke="#7D4E4E" stroke-dasharray="6.2 11.82"/>
<path d="M1181.3 281.4L1312.5 232.2" stroke="#8E8E00" stroke-dasharray="6.2 11.32"/>
<path d="M1312.5 232.2L1443.5 191" stroke="#FB6501" stroke-dasharray="6.2 10.97"/>
<path d="M1443.5 191L1575.4 157.8" stroke="#6699CC" stroke-dasharray="6.2 10.8"/>
</g>
<g fill="none" stroke="#000" stroke-width="8.7" stroke-linecap="butt">
<path d="M187 37L1777 37"/>
<path d="M187 1303.4L1777 1303.4"/>
<path d="M229.6 37L229.6 1303.4"/>
<path d="M1772.5 37L1772.5 1303.4"/>
<path d="M208 1197.87L229.6 1197.87"/>
<path d="M1751.2 1197.87L1772.5 1197.87"/>
<path d="M187 1092.33L229.6 1092.33"/>
<path d="M1730 1092.33L1772.5 1092.33"/>
<path d="M208 986.8L229.6 986.8"/>
<path d="M1751.2 986.8L1772.5 986.8"/>
<path d="M187 881.26L229.6 881.26"/>
<path d="M1730 881.26L1772.5 881.26"/>
<path d="M208 775.73L229.6 775.73"/>
<path d="M1751.2 775.73L1772.5 775.73"/>
<path d="M187 670.19L229.6 670.19"/>
<path d="M1730 670.19L1772.5 670.19"/>
<path d="M208 564.66L229.6 564.66"/>
<path d="M1751.2 564.66L1772.5 564.66"/>
<path d="M187 459.12L229.6 459.12"/>
<path d="M1730 459.12L1772.5 459.12"/>
<path d="M208 353.59L229.6 353.59"/>
<path d="M1751.2 353.59L1772.5 353.59"/>
<path d="M187 248.05L229.6 248.05"/>
<path d="M1730 248.05L1772.5 248.05"/>
<path d="M208 142.52L229.6 142.52"/>
<path d="M1751.2 142.52L1772.5 142.52"/>
<path d="M262.4 37L262.4 78.7"/>
<path d="M262.4 1303.4L262.4 1345.5"/>
<path d="M392.4 37L392.4 57.8"/>
<path d="M392.4 1303.4L392.4 1324.6"/>
<path d="M524.5 37L524.5 78.7"/>
<path d="M524.5 1303.4L524.5 1345.5"/>
<path d="M656.5 37L656.5 57.8"/>
<path d="M656.5 1303.4L656.5 1324.6"/>
<path d="M787.4 37L787.4 78.7"/>
<path d="M787.4 1303.4L787.4 1345.5"/>
<path d="M918.5 37L918.5 57.8"/>
<path d="M918.5 1303.4L918.5 1324.6"/>
<path d="M1049.4 37L1049.4 78.7"/>
<path d="M1049.4 1303.4L1049.4 1345.5"/>
<path d="M1181.3 37L1181.3 57.8"/>
<path d="M1181.3 1303.4L1181.3 1324.6"/>
<path d="M1312.5 37L1312.5 78.7"/>
<path d="M1312.5 1303.4L1312.5 1345.5"/>
<path d="M1443.5 37L1443.5 57.8"/>
<path d="M1443.5 1303.4L1443.5 1324.6"/>
<path d="M1575.4 37L1575.4 78.7"/>
<path d="M1575.4 1303.4L1575.4 1345.5"/>
<path d="M1707 37L1707 57.8"/>
<path d="M1707 1303.4L1707 1324.6"/>
</g>
<g font-size="67px">
<text x="157" y="1324.2" text-anchor="end">0</text>
<text x="157" y="1113.13" text-anchor="end">1</text>
<text x="157" y="902.06" text-anchor="end">2</text>
<text x="157" y="690.99" text-anchor="end">3</text>
<text x="157" y="479.92" text-anchor="end">4</text>
<text x="157" y="268.85" text-anchor="end">5</text>
<text x="157" y="57.78" text-anchor="end">6</text>
<text x="262.4" y="1425.7" text-anchor="middle">0</text>
<text x="524.5" y="1425.7" text-anchor="middle">4</text>
<text x="787.4" y="1425.7" text-anchor="middle">8</text>
<text x="1049.4" y="1425.7" text-anchor="middle">12</text>
<text x="1312.5" y="1425.7" text-anchor="middle">16</text>
<text x="1575.4" y="1425.7" text-anchor="middle">20</text>
</g>
<text x="1001.3" y="1567.3" font-size="81.5px" text-anchor="middle"><tspan font-style="italic">Q</tspan> (m<tspan font-size="57px" dy="-31.5">3</tspan><tspan dy="31.5">/h)</tspan></text>
<text transform="translate(74.4 670.6) rotate(-90)" font-size="82px" text-anchor="middle"><tspan font-style="italic">P</tspan> (kW)</text>
<g>
<rect x="1108.5" y="1048.5" width="614" height="240" fill="#fff" stroke="#000" stroke-width="1" shape-rendering="crispEdges"/>
<path d="M1108.5 1086.4L1163.9 1086.4M1202.4 1086.4L1258.2 1086.4" stroke="#000" stroke-width="5" fill="none"/>
<text x="1258.3" y="1108.4" font-size="66px">50 Hz</text>
<rect x="1170.8" y="1074.3" width="24.2" height="24.2"/>
<path d="M1415.2 1086.4L1471 1086.4M1508.9 1086.4L1564.3 1086.4" stroke="#000" stroke-width="5" fill="none"/>
<text x="1562.8" y="1108.4" font-size="66px">45 Hz</text>
<circle cx="1489.2" cy="1086.4" r="13.3"/>
<path d="M1108.5 1168.4L1163.9 1168.4M1202.4 1168.4L1258.2 1168.4" stroke="#000" stroke-width="5" fill="none"/>
<text x="1258.3" y="1190.4" font-size="66px">40 Hz</text>
<path d="M1182.9 1150L1198.8 1177.8L1167 1177.8Z"/>
<path d="M1415.2 1168.4L1471 1168.4M1508.9 1168.4L1564.3 1168.4" stroke="#000" stroke-width="5" fill="none"/>
<text x="1562.8" y="1190.4" font-size="66px">35 Hz</text>
<path d="M1489.2 1150.9L1506.7 1168.4L1489.2 1185.9L1471.7 1168.4Z"/>
<path d="M1108.5 1250.3L1163.9 1250.3M1202.4 1250.3L1258.2 1250.3" stroke="#000" stroke-width="5" fill="none"/>
<text x="1258.3" y="1272.3" font-size="66px">30 Hz</text>
<g fill="none" stroke="#000" stroke-width="2.1"><circle cx="1182.9" cy="1250.3" r="12.3"/><path d="M1170.3 1237.7L1195.5 1262.9M1170.3 1262.9L1195.5 1237.7"/></g>
<path d="M1415.2 1250.3L1471 1250.3M1508.9 1250.3L1564.3 1250.3" stroke="#000" stroke-width="5" fill="none"/>
<text x="1562.8" y="1272.3" font-size="66px">25 Hz</text>
<path fill="none" stroke="#000" stroke-width="1.8" d="M1474.9 1236L1503.5 1264.6M1474.9 1264.6L1503.5 1236M1489.2 1236L1489.2 1264.6M1474.9 1250.3L1503.5 1250.3"/>
</g>
</svg></body></html>
